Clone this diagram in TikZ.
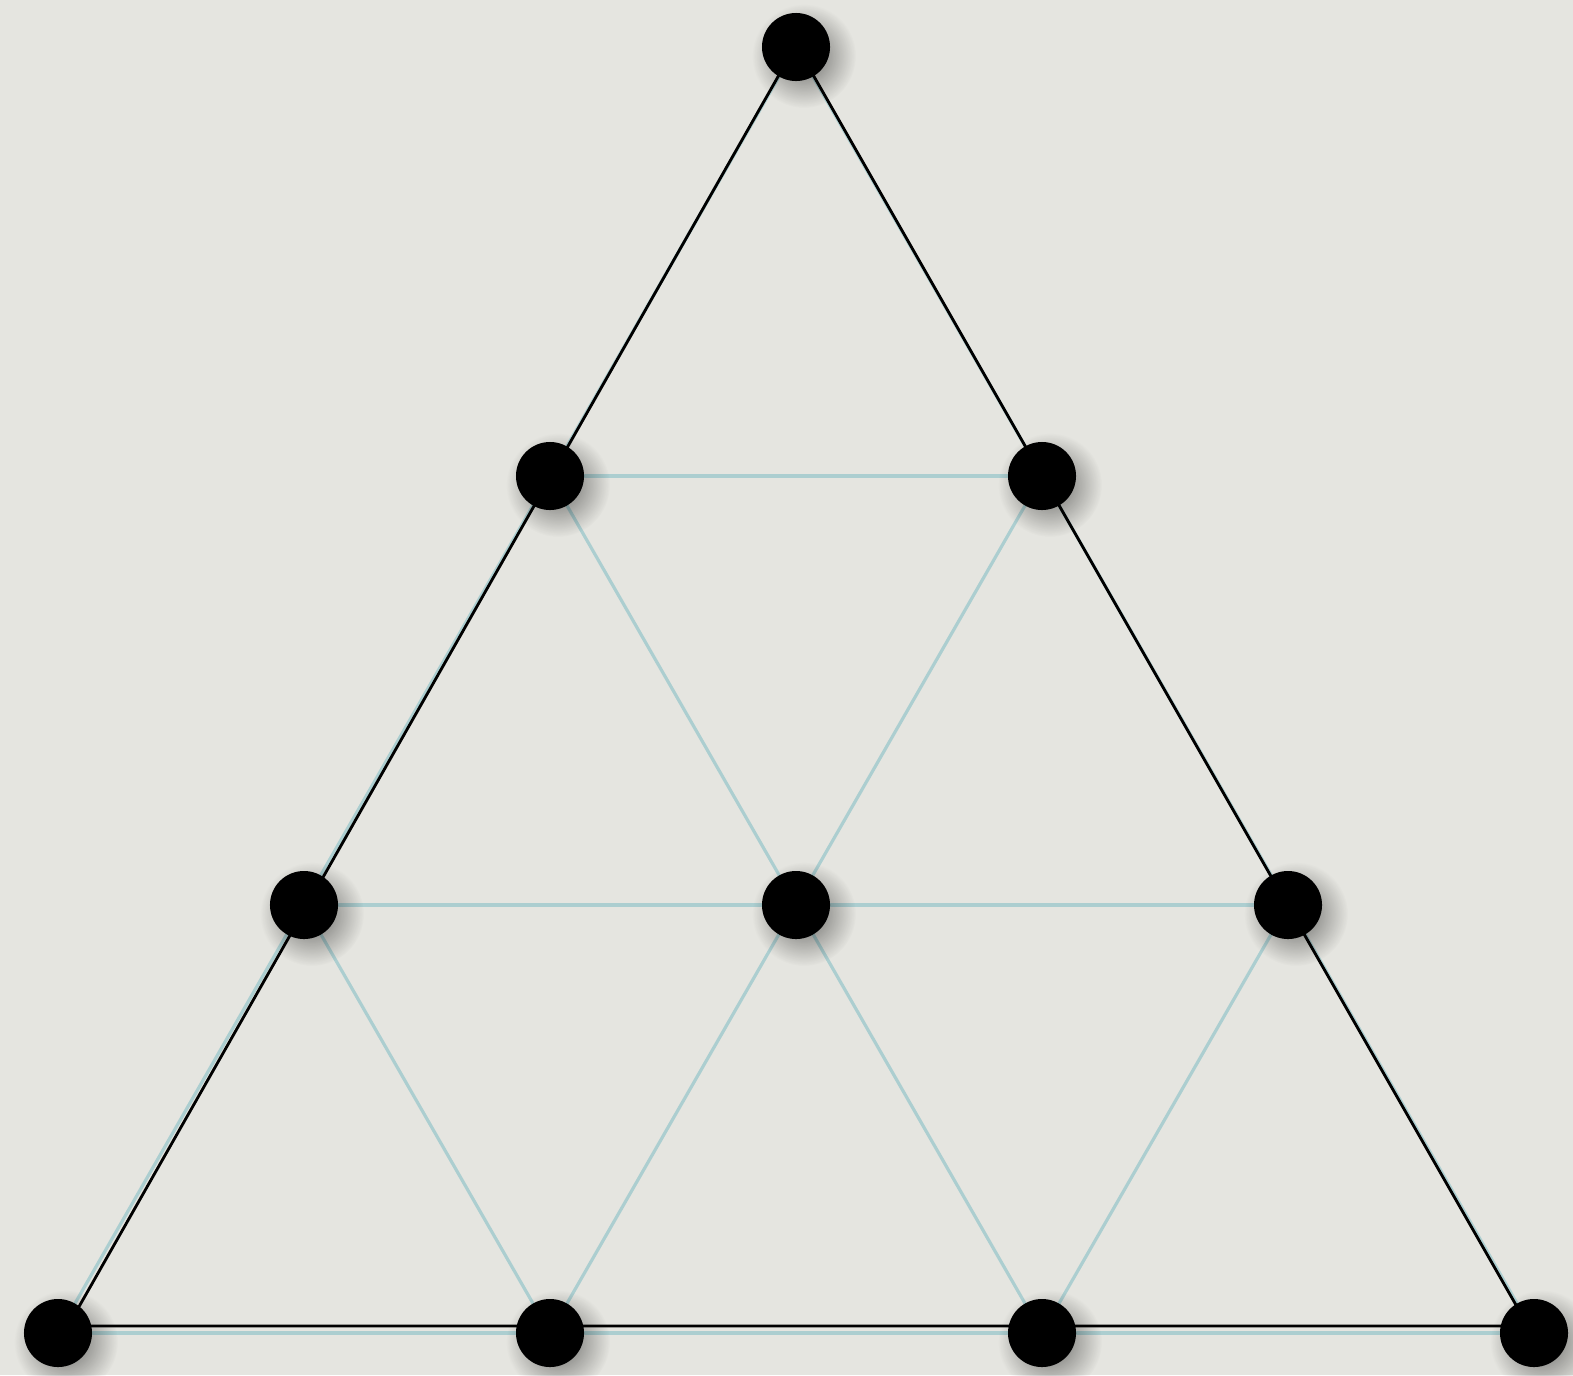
\documentclass[tikz,border=0pt]{standalone}
\usetikzlibrary{fadings}
\definecolor{paper}{RGB}{229,229,224}
\definecolor{gridline}{RGB}{172,206,208}
\tikzfading[name=softshadow, inner color=transparent!0, outer color=transparent!100]
\pgfdeclarelayer{back}\pgfdeclarelayer{bg}\pgfsetlayers{back,bg,main}
\begin{document}
\begin{tikzpicture}[x=0.01cm,y=-0.01cm,
  dot/.style={circle,fill=black,minimum size=0.68cm,inner sep=0pt},
  gridl/.style={draw=gridline,line width=0.9pt},
  edge/.style={draw=black,line width=0.8pt},
  shade/.style={fill=black,opacity=0.55,path fading=softshadow}]
\begin{pgfonlayer}{back}
\fill[paper] (0,0) rectangle (1573,1375);
\end{pgfonlayer}
\useasboundingbox (0,0) rectangle (1573,1375);
% shadows
\foreach \x/\y in {796/47,550/476,1042/476,304/905,796/905,1288/905,58/1333,550/1333,1042/1333,1534/1333}
  \fill[shade] (\x+8,\y+9) circle (52);
% dots
\node[dot] (a) at (796,47) {};
\node[dot] (b1) at (550,476) {};
\node[dot] (b2) at (1042,476) {};
\node[dot] (c1) at (304,905) {};
\node[dot] (c2) at (796,905) {};
\node[dot] (c3) at (1288,905) {};
\node[dot] (d1) at (58,1333) {};
\node[dot] (d2) at (550,1333) {};
\node[dot] (d3) at (1042,1333) {};
\node[dot] (d4) at (1534,1333) {};
\coordinate (ka) at (796,45);
\coordinate (kl) at (68,1326);
\coordinate (kr) at (1528,1326);
\begin{pgfonlayer}{bg}
  \draw[gridl] (b1.center) -- (b2.center);
  \draw[gridl] (c1.center) -- (c3.center);
  \draw[gridl] (d1.center) -- (d4.center);
  \draw[gridl] (a.center) -- (d4.center);
  \draw[gridl] (b1.center) -- (d3.center);
  \draw[gridl] (c1.center) -- (d2.center);
  \draw[gridl] (a.center) -- (d1.center);
  \draw[gridl] (b2.center) -- (d2.center);
  \draw[gridl] (c3.center) -- (d3.center);
  \draw[edge] (ka) -- (kl) -- (kr) -- cycle;
\end{pgfonlayer}
\end{tikzpicture}
\end{document}
